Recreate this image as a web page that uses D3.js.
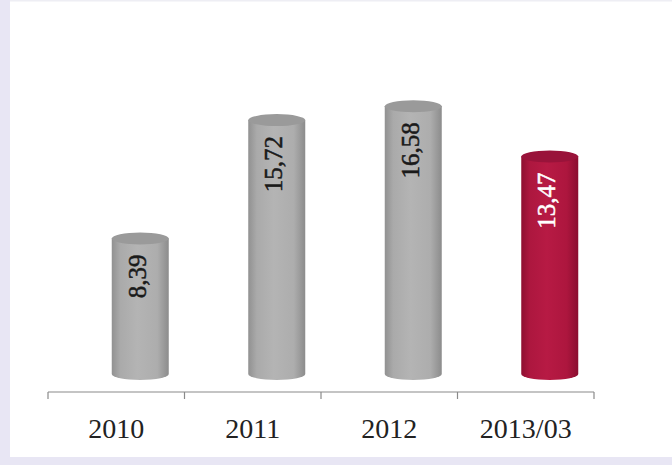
<!DOCTYPE html>
<html>
<head>
<meta charset="utf-8">
<script src="https://cdnjs.cloudflare.com/ajax/libs/d3/7.8.5/d3.min.js"></script>
<style>
  body { margin: 0; background: #fff; }
  svg { display: block; }
</style>
</head>
<body>
<div id="chart"></div>
<script>
// chart values
const categories = ["2010", "2011", "2012", "2013/03"];
const values = [8.39, 15.72, 16.58, 13.47];
const valueLabels = ["8,39", "15,72", "16,58", "13,47"];
const highlight = [false, false, false, true];

const width = 672;
const height = 465;

const svg = d3.select("#chart")
  .append("svg")
  .attr("width", width)
  .attr("height", height);

// scanned page frame
svg.append("rect").attr("width", width).attr("height", height).attr("fill", "#fff");
svg.append("rect").attr("x", 0).attr("y", 0).attr("width", 10).attr("height", height).attr("fill", "#e8e6f4");
svg.append("rect").attr("x", 0).attr("y", 457).attr("width", width).attr("height", 8).attr("fill", "#e8e6f4");
svg.append("rect").attr("x", 10).attr("y", 0).attr("width", width).attr("height", 1.5).attr("fill", "#eeeef4");

// gradients for the cylinders
const defs = svg.append("defs");
function cylGradient(id, stops) {
  const g = defs.append("linearGradient").attr("id", id)
    .attr("x1", "0%").attr("y1", "0%").attr("x2", "100%").attr("y2", "0%");
  stops.forEach(s => g.append("stop").attr("offset", s[0]).attr("stop-color", s[1]));
}
cylGradient("grayBody", [["0%", "#919191"], ["15%", "#aaaaaa"], ["45%", "#b4b4b4"], ["80%", "#adadad"], ["100%", "#8c8c8c"]]);
cylGradient("redBody", [["0%", "#8e0f31"], ["15%", "#ad173f"], ["45%", "#b71a44"], ["80%", "#ad163e"], ["100%", "#8a0e2f"]]);

// scales
const x = d3.scaleBand()
  .domain(categories)
  .range([48, 594])
  .padding(0);

const y = d3.scaleLinear()
  .domain([0, 20])
  .range([374, 51]);

const barW = 57;
const barOffset = 24; // 3d depth shift of the cylinders
const ry = 6;

// axis line + ticks at category boundaries
const axis = svg.append("g");
axis.append("line")
  .attr("x1", x.range()[0]).attr("x2", x.range()[1])
  .attr("y1", 392).attr("y2", 392)
  .attr("stroke", "#8a8a8a").attr("stroke-width", 1.2);
const tickPos = categories.map(d => x(d)).concat([x.range()[1]]);
axis.selectAll(".tick")
  .data(tickPos)
  .enter()
  .append("line")
  .attr("x1", d => d).attr("x2", d => d)
  .attr("y1", 392).attr("y2", 399)
  .attr("stroke", "#8a8a8a").attr("stroke-width", 1.2);

axis.selectAll(".cat")
  .data(categories)
  .enter()
  .append("text")
  .attr("x", d => x(d) + x.bandwidth() / 2)
  .attr("y", 438)
  .attr("text-anchor", "middle")
  .attr("font-family", "'Liberation Serif', 'Times New Roman', serif")
  .attr("font-size", 28)
  .attr("fill", "#222")
  .text(d => d);

// cylinders
const bars = svg.selectAll(".bar")
  .data(categories.map((c, i) => ({ cat: c, value: values[i], label: valueLabels[i], hi: highlight[i] })))
  .enter()
  .append("g")
  .attr("class", "bar");

bars.append("path")
  .attr("d", d => {
    const cx = x(d.cat) + x.bandwidth() / 2 + barOffset;
    const l = cx - barW / 2, r = cx + barW / 2;
    const top = y(d.value), base = y(0);
    return `M${l},${top} L${l},${base} A${barW / 2},${ry} 0 0 0 ${r},${base} L${r},${top} Z`;
  })
  .attr("fill", d => d.hi ? "url(#redBody)" : "url(#grayBody)");

bars.append("ellipse")
  .attr("cx", d => x(d.cat) + x.bandwidth() / 2 + barOffset)
  .attr("cy", d => y(d.value))
  .attr("rx", barW / 2)
  .attr("ry", ry)
  .attr("fill", d => d.hi ? "#99133a" : "#9a9a9a");

bars.append("text")
  .attr("transform", d => {
    const cx = x(d.cat) + x.bandwidth() / 2 + barOffset - 3;
    return `translate(${cx},${y(d.value) - ry + 22}) rotate(-90)`;
  })
  .attr("text-anchor", "end")
  .attr("dominant-baseline", "central")
  .attr("font-family", "'Liberation Serif', 'Times New Roman', serif")
  .attr("font-size", 25)
  .attr("fill", d => d.hi ? "#fff" : "#1a1a1a")
  .attr("stroke", d => d.hi ? "#fff" : "#1a1a1a")
  .attr("stroke-width", 0.5)
  .text(d => d.label);
</script>
</body>
</html>
